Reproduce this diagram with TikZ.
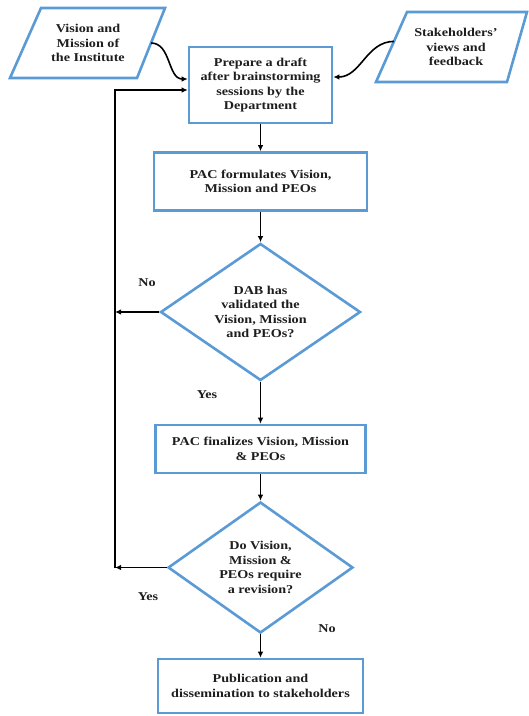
\documentclass[tikz,border=0pt]{standalone}
\usepackage{fontspec}
\setmainfont{Liberation Serif}[FakeStretch=1.18]
\usetikzlibrary{shapes.geometric,arrows.meta,calc}
\definecolor{boxblue}{RGB}{91,155,213}
\definecolor{ink}{RGB}{30,30,30}
\begin{document}
\begin{tikzpicture}[x=1pt,y=-1pt,
  txt/.style={font=\fontsize{12}{14.5}\selectfont\bfseries, text=ink, align=center},
  procbox/.style={txt, rectangle, draw=boxblue, line width=2.6pt, fill=white, inner sep=0pt},
  decision/.style={txt, diamond, aspect=1.5, draw=boxblue, line width=2.6pt, fill=white, inner sep=0pt},
  databox/.style={draw=boxblue, line width=2.6pt, fill=white, line join=miter},
  flow/.style={draw=black, line width=1.6pt, -{Latex[length=6pt,width=5.5pt]}},
  lbl/.style={txt}
]
\useasboundingbox (0,0) rectangle (529,716);

% input data (parallelograms)
\coordinate (vmA) at (41,8);
\coordinate (vmB) at (165,8);
\coordinate (vmC) at (137,78);
\coordinate (vmD) at (10,78);
\draw[databox] (vmA) -- (vmB) -- (vmC) -- (vmD) -- cycle;
\node[txt] (vm) at (88,43) {Vision and\\Mission of\\the Institute};

\coordinate (shA) at (407,12);
\coordinate (shB) at (527,12);
\coordinate (shC) at (507,82);
\coordinate (shD) at (376,82);
\draw[databox] (shA) -- (shB) -- (shC) -- (shD) -- cycle;
\node[txt] (sh) at (456,47) {Stakeholders'\\views and\\feedback};

% process steps and decisions
\node[procbox, minimum width=143pt, minimum height=76pt] (draft) at (260.5,85)
  {Prepare a draft\\after brainstorming\\sessions by the\\Department};
\node[procbox, minimum width=213pt, minimum height=58pt] (formulate) at (260.5,181.5)
  {PAC formulates Vision,\\Mission and PEOs};
\node[decision, minimum width=200pt, minimum height=137pt] (dab) at (260.5,312)
  {DAB has\\validated the\\Vision, Mission\\and PEOs?};
\node[procbox, minimum width=210pt, minimum height=48pt] (finalize) at (260.5,449)
  {PAC finalizes Vision, Mission\\\& PEOs};
\node[decision, minimum width=185pt, minimum height=131pt] (revise) at (260.5,567.5)
  {Do Vision,\\Mission \&\\PEOs require\\a revision?};
\node[procbox, minimum width=205pt, minimum height=54pt] (publish) at (260.5,686)
  {Publication and\\dissemination to stakeholders};

% inputs into the draft
\coordinate (vmOut) at ($(vmB)!0.5!(vmC)$);
\coordinate (shOut) at ($(shA)!0.42!(shD)$);
\draw[flow] (vmOut) to[out=0,in=180] ($(draft.west)+(0,-6)$);
\draw[flow] (shOut) to[out=180,in=0] ($(draft.east)+(0,-8)$);

% main sequence
\draw[flow] (draft) -- (formulate);
\draw[flow] (formulate) -- (dab);
\draw[flow] (dab) -- (finalize);
\draw[flow] (finalize) -- (revise);
\draw[flow] (revise) -- (publish);

% feedback rail
\coordinate (railtop) at (115,90);
\coordinate (railbot) at (115,567.5);
\draw[flow] (dab.west) -- (dab.west -| railtop);
\draw[flow] (revise.west) -- (railbot);
\draw[flow] (railbot) -- (railtop) -- (railtop -| draft.west);

% branch labels
\node[lbl] (no1) at (147,283) {No};
\node[lbl] (yes1) at (207,395) {Yes};
\node[lbl] (yes2) at (148,597) {Yes};
\node[lbl] (no2) at (327,629) {No};
\end{tikzpicture}
\end{document}
